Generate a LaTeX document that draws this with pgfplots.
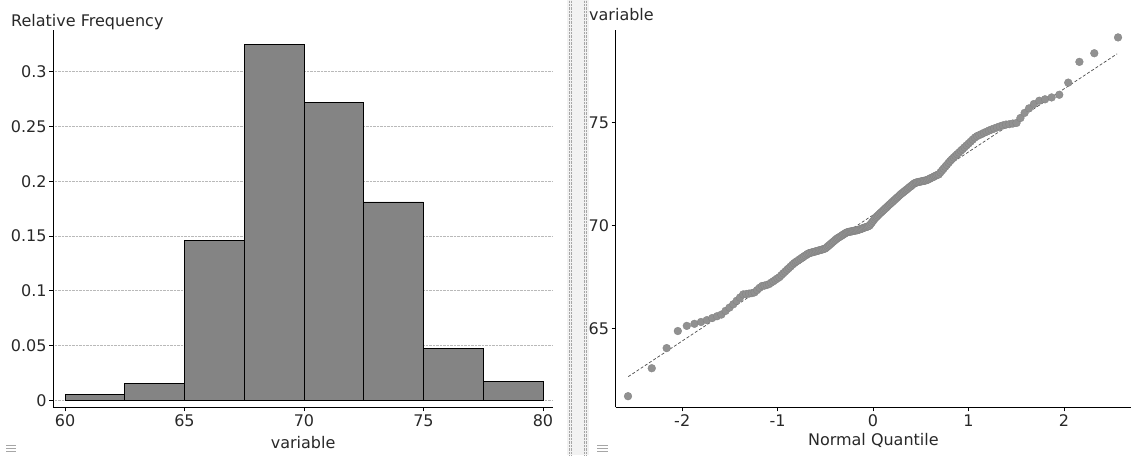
\documentclass[border=0pt]{standalone}
\usepackage{fontspec}
\setmainfont{DejaVu Sans}
\usepackage{pgfplots}
\pgfplotsset{compat=1.18}
\definecolor{barfill}{RGB}{132,132,132}
\definecolor{ptfill}{RGB}{145,145,145}
\definecolor{txt}{RGB}{40,40,40}
\newcommand{\fs}{\fontsize{16}{19}\selectfont}
\begin{document}
\begin{tikzpicture}[x=1pt,y=1pt]
\useasboundingbox (0pt,0pt) rectangle (1131pt,455pt);
% divider between panels
\fill[gray!10] (567pt,0pt) rectangle (589pt,455pt);
\draw[gray!70, densely dotted] (569pt,0pt) -- (569pt,455pt);
\draw[gray!70, densely dotted] (571.5pt,0pt) -- (571.5pt,455pt);
\draw[gray!70, densely dotted] (584pt,0pt) -- (584pt,455pt);
\draw[gray!70, densely dotted] (586.5pt,0pt) -- (586.5pt,455pt);
% small icons
\foreach \yy in {4,7,10} {\draw[gray!70, line width=0.8pt] (6pt,\yy pt) -- (16pt,\yy pt); \draw[gray!70, line width=0.8pt] (597pt,\yy pt) -- (608pt,\yy pt);}

\begin{axis}[
  at={(53.3pt,47.7pt)}, anchor=south west,
  scale only axis, width=499.7pt, height=377.3pt,
  xmin=59.51, xmax=80.42, ymin=-0.0064, ymax=0.338,
  axis x line*=bottom, axis y line*=left,
  axis line style={-, black, line width=1.1pt},
  tick align=outside, major tick length=4pt,
  tick style={black, line width=0.7pt},
  xtick={60,65,70,75,80}, xticklabels={60,65,70,75,80},
  ytick={0,0.05,0.1,0.15,0.2,0.25,0.3},
  yticklabels={0,0.05,0.1,0.15,0.2,0.25,0.3},
  ymajorgrids, grid style={gray!55, densely dotted, line width=0.6pt},
  tick label style={font=\fs, text=txt},
  yticklabel style={inner sep=2.5pt},
  xticklabel style={inner sep=3pt},
  xlabel={variable},
  xlabel style={font=\fs, text=txt, at={(axis description cs:0.5,0)}, anchor=center, yshift=-35pt},
  /pgf/number format/assume math mode=true,
]
\addplot[ybar interval, fill=barfill, draw=black, line width=0.8pt] coordinates {
 (60,0.0052) (62.5,0.0155) (65,0.1455) (67.5,0.325) (70,0.272)
 (72.5,0.181) (75,0.047) (77.5,0.0172) (80,0.0172)
};
\end{axis}
\node[anchor=base west, font=\fs, text=txt, inner sep=0pt] at (11pt,428pt) {Relative Frequency};

\begin{axis}[
  at={(615.7pt,47.7pt)}, anchor=south west,
  scale only axis, width=515.3pt, height=377.3pt,
  xmin=-2.697, xmax=2.704, ymin=61.16, ymax=79.51,
  axis x line*=bottom, axis y line*=left,
  axis line style={-, black, line width=1.1pt},
  tick align=outside, major tick length=4pt,
  tick style={black, line width=0.7pt},
  xtick={-2,-1,0,1,2}, xticklabels={-2,-1,0,1,2},
  ytick={65,70,75}, yticklabels={65,70,75},
  tick label style={font=\fs, text=txt},
  yticklabel style={inner sep=2.5pt},
  xticklabel style={inner sep=3pt},
  xlabel={Normal Quantile},
  xlabel style={font=\fs, text=txt, at={(axis description cs:0.5,0)}, anchor=center, yshift=-33pt},
  /pgf/number format/assume math mode=true,
]
\addplot[gray!60!black, line width=0.7pt, dash pattern=on 3pt off 2pt] coordinates {(-2.566,62.65) (2.558,78.35)};
\addplot[only marks, mark=*, mark size=3.9pt, mark options={fill=ptfill, draw=ptfill!90!black, line width=0.3pt}] table {
z v
-2.568 61.70
-2.319 63.06
-2.163 64.04
-2.046 64.87
-1.952 65.12
-1.872 65.22
-1.803 65.31
-1.742 65.40
-1.686 65.50
-1.635 65.59
-1.589 65.67
-1.545 65.85
-1.504 66.01
-1.465 66.17
-1.429 66.34
-1.394 66.50
-1.361 66.65
-1.329 66.67
-1.299 66.69
-1.270 66.71
-1.242 66.75
-1.215 66.86
-1.189 66.97
-1.163 67.06
-1.138 67.08
-1.114 67.11
-1.090 67.15
-1.068 67.22
-1.045 67.29
-1.023 67.36
-1.002 67.43
-0.981 67.49
-0.960 67.59
-0.940 67.68
-0.921 67.76
-0.901 67.85
-0.882 67.93
-0.864 68.01
-0.846 68.09
-0.827 68.17
-0.809 68.23
-0.792 68.28
-0.774 68.34
-0.757 68.39
-0.740 68.45
-0.724 68.50
-0.707 68.55
-0.690 68.61
-0.674 68.65
-0.658 68.67
-0.642 68.69
-0.627 68.71
-0.611 68.73
-0.596 68.75
-0.581 68.77
-0.566 68.79
-0.551 68.81
-0.536 68.83
-0.521 68.85
-0.507 68.87
-0.492 68.91
-0.478 68.97
-0.463 69.03
-0.450 69.08
-0.435 69.14
-0.421 69.20
-0.407 69.25
-0.393 69.31
-0.380 69.36
-0.366 69.40
-0.352 69.44
-0.339 69.48
-0.325 69.52
-0.312 69.56
-0.298 69.60
-0.285 69.64
-0.272 69.67
-0.258 69.69
-0.245 69.70
-0.232 69.71
-0.219 69.72
-0.206 69.74
-0.193 69.75
-0.180 69.76
-0.167 69.77
-0.154 69.79
-0.141 69.81
-0.128 69.83
-0.115 69.85
-0.103 69.88
-0.090 69.90
-0.077 69.92
-0.064 69.94
-0.051 69.96
-0.038 69.99
-0.026 70.06
-0.013 70.14
0.000 70.22
0.013 70.30
0.026 70.38
0.038 70.43
0.051 70.49
0.064 70.55
0.077 70.61
0.090 70.66
0.103 70.72
0.115 70.77
0.128 70.83
0.141 70.88
0.154 70.94
0.167 71.00
0.180 71.05
0.193 71.11
0.206 71.16
0.219 71.22
0.232 71.27
0.245 71.33
0.258 71.38
0.272 71.44
0.285 71.50
0.298 71.55
0.312 71.60
0.325 71.65
0.339 71.70
0.352 71.75
0.366 71.80
0.380 71.86
0.393 71.90
0.407 71.96
0.421 72.01
0.435 72.06
0.450 72.09
0.463 72.10
0.478 72.12
0.492 72.13
0.507 72.15
0.521 72.16
0.536 72.18
0.551 72.19
0.566 72.21
0.581 72.25
0.596 72.28
0.611 72.32
0.627 72.35
0.642 72.39
0.658 72.43
0.674 72.46
0.690 72.49
0.707 72.59
0.724 72.68
0.740 72.77
0.757 72.86
0.774 72.95
0.792 73.05
0.809 73.14
0.827 73.23
0.846 73.31
0.864 73.39
0.882 73.47
0.901 73.55
0.921 73.64
0.940 73.72
0.960 73.81
0.981 73.90
1.002 73.99
1.023 74.08
1.045 74.18
1.068 74.28
1.090 74.35
1.114 74.40
1.138 74.45
1.163 74.51
1.189 74.56
1.215 74.62
1.242 74.67
1.270 74.72
1.299 74.77
1.329 74.82
1.361 74.87
1.394 74.91
1.429 74.93
1.465 74.96
1.504 74.99
1.545 75.23
1.589 75.48
1.635 75.70
1.686 75.91
1.742 76.07
1.803 76.14
1.872 76.23
1.952 76.36
2.046 76.95
2.163 77.96
2.319 78.38
2.568 79.15
};
\end{axis}
\node[anchor=base west, font=\fs, text=txt, inner sep=0pt] at (589pt,434pt) {variable};
\end{tikzpicture}
\end{document}
